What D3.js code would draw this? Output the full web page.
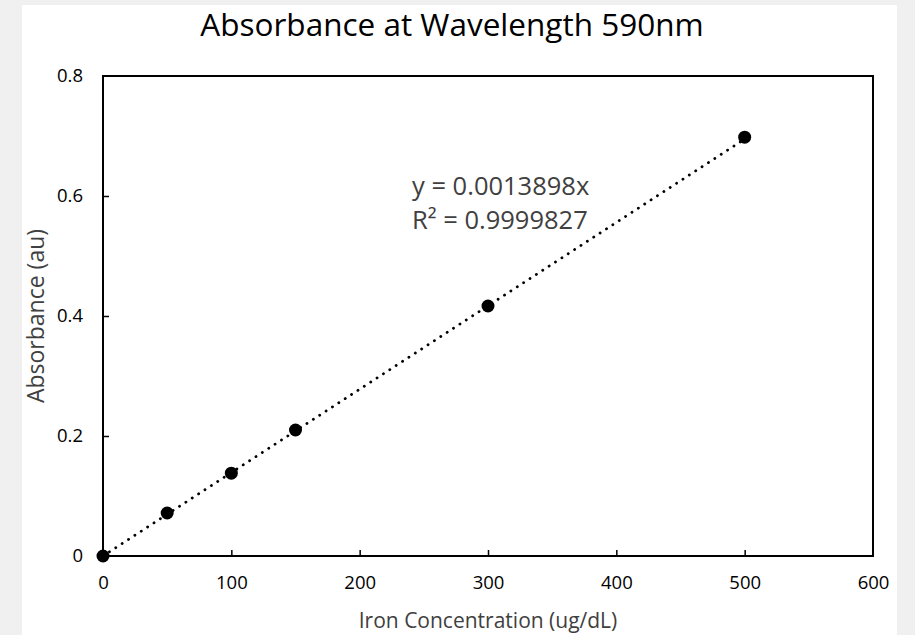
<!DOCTYPE html>
<html>
<head>
<meta charset="utf-8">
<script src="https://cdn.jsdelivr.net/npm/d3@7"></script>
<style>
  body { margin: 0; background: #f0f0f0; }
  text { font-family: "Open Sans", sans-serif; fill: #000; }
</style>
</head>
<body>
<div id="chart"></div>
<script>
// Data
var concentration = [0, 50, 100, 150, 300, 500];
var absorbance = [0, 0.0717, 0.138, 0.21, 0.4167, 0.698];

// Trendline (forced through origin) as given by the label
var slope = 0.0013898;
var rSquared = "0.9999827";
var trendX = [0, 500];

var xTicks = [0, 100, 200, 300, 400, 500, 600];
var yTicks = [0, 0.2, 0.4, 0.6, 0.8];

var svgWidth = 915;
var svgHeight = 635;

var margin = { top: 76, right: 42, bottom: 79, left: 103 };
var width = svgWidth - margin.left - margin.right;
var height = svgHeight - margin.top - margin.bottom;

var svg = d3.select("#chart")
  .append("svg")
  .attr("width", svgWidth)
  .attr("height", svgHeight);

// white chart area
svg.append("rect")
  .attr("x", 22)
  .attr("y", 5)
  .attr("width", 875)
  .attr("height", 630)
  .attr("fill", "#fff");

var chartGroup = svg.append("g")
  .attr("transform", `translate(${margin.left}, ${margin.top})`);

var xScale = d3.scaleLinear().domain([0, 600]).range([0, width]);
var yScale = d3.scaleLinear().domain([0, 0.8]).range([height, 0]);

// x axis (ticks point inward)
var xAxis = chartGroup.append("g")
  .attr("transform", `translate(0, ${height})`)
  .call(d3.axisBottom(xScale).tickValues(xTicks).tickSize(-6).tickPadding(20).tickFormat(d3.format("d")));

// y axis
var yAxis = chartGroup.append("g")
  .call(d3.axisLeft(yScale).tickValues(yTicks).tickSize(-6).tickPadding(20).tickFormat(d => d === 0 ? "0" : d3.format(".1f")(d)));

[xAxis, yAxis].forEach(function(ax) {
  ax.select(".domain").remove();
  ax.selectAll(".tick line").attr("stroke", "#000").attr("stroke-width", 1.5);
  ax.selectAll(".tick text")
    .attr("fill", "#404040")
    .style("font-family", "'Open Sans', sans-serif")
    .style("font-size", "18.5px");
});
// corner ticks are hidden by the frame
xAxis.selectAll(".tick").filter(d => d === 0 || d === 600).select("line").remove();
yAxis.selectAll(".tick").filter(d => d === 0 || d === 0.8).select("line").remove();

// frame
chartGroup.append("rect")
  .attr("width", width)
  .attr("height", height)
  .attr("fill", "none")
  .attr("stroke", "#000")
  .attr("stroke-width", 2);

// trendline
chartGroup.append("line")
  .attr("x1", xScale(trendX[0]))
  .attr("y1", yScale(slope * trendX[0]))
  .attr("x2", xScale(trendX[1]))
  .attr("y2", yScale(slope * trendX[1]))
  .attr("stroke", "#000")
  .attr("stroke-width", 2.8)
  .attr("stroke-linecap", "round")
  .attr("stroke-dasharray", "0.1 7.5");

// points
chartGroup.selectAll("circle")
  .data(concentration)
  .enter()
  .append("circle")
  .attr("cx", d => xScale(d))
  .attr("cy", (d, i) => yScale(absorbance[i]))
  .attr("r", 6.5)
  .attr("fill", "#000");

// trendline label
var eq = chartGroup.append("text")
  .attr("x", 309)
  .attr("y", 119)
  .style("font-size", "25.5px")
  .style("fill", "#404040");
eq.append("tspan").text("y = " + slope + "x");
eq.append("tspan").attr("x", 309).attr("dy", 34).text("R² = " + rSquared);

// title
svg.append("text")
  .attr("x", 452)
  .attr("y", 36)
  .attr("text-anchor", "middle")
  .style("font-size", "31.5px")
  .style("fill", "#000")
  .text("Absorbance at Wavelength 590nm");

// axis labels
svg.append("text")
  .attr("x", margin.left + width / 2)
  .attr("y", 628)
  .attr("text-anchor", "middle")
  .style("font-size", "21px")
  .style("fill", "#404040")
  .text("Iron Concentration (ug/dL)");

svg.append("text")
  .attr("transform", "rotate(-90)")
  .attr("x", -316)
  .attr("y", 44)
  .attr("text-anchor", "middle")
  .style("font-size", "23px")
  .style("fill", "#404040")
  .text("Absorbance (au)");
</script>
</body>
</html>
